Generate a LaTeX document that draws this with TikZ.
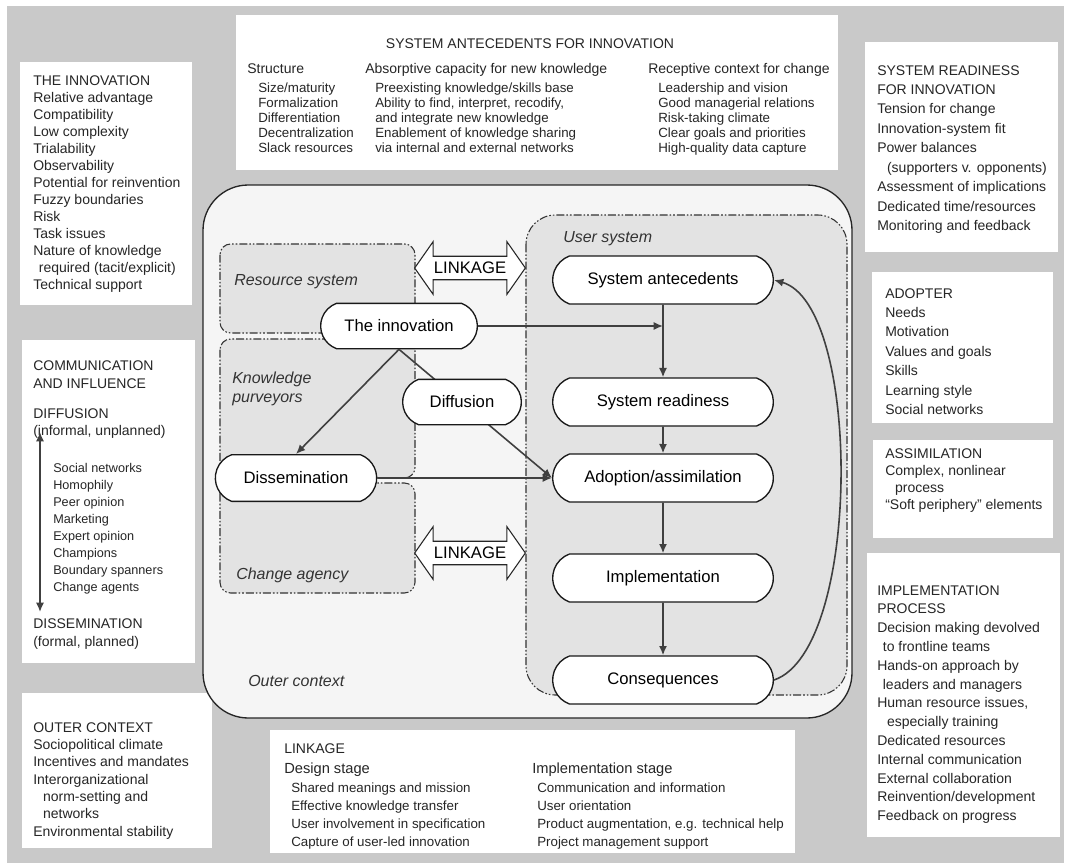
\documentclass[tikz,border=0pt]{standalone}
\usepackage{fontspec}
\setmainfont{Liberation Sans}
\usetikzlibrary{graphs,arrows.meta,shapes.misc,shapes.arrows}

\tikzset{
  panel/.style={fill=white},
  boxtext/.style={align=left, inner sep=0pt, anchor=north west, text=black!85},
  stage/.style={rounded rectangle, rounded rectangle arc length=140, draw=black!90,
    line width=1pt, fill=white, minimum width=169.5pt, minimum height=36pt,
    inner sep=2pt, font=\fontsize{12.5}{14}\selectfont},
  sysbox/.style={draw=black!80, line width=0.8pt, fill=black!11,
    dash pattern=on 6pt off 1.5pt on 1.2pt off 1.5pt on 1.2pt off 1.5pt},
  region/.style={font=\itshape\fontsize{12}{14}\selectfont, text=black!80, inner sep=0pt},
  linkarrow/.style={double arrow, draw=black!85, line width=0.8pt, fill=white,
    double arrow head extend=11pt, double arrow tip angle=110, minimum height=83pt,
    inner sep=4pt, font=\fontsize{12.5}{14}\selectfont},
  flow/.style={draw=black!75, line width=1.2pt},
  >={Latex[length=7pt,width=6pt]},
  every edge/.append style={flow},
}

\begin{document}
\begin{tikzpicture}[x=0.75pt, y=-0.75pt]
  \useasboundingbox (0,0) rectangle (1069,863);
  \fill[white] (0,0) rectangle (1069,863);
  \fill[black!21] (7,6) rectangle (1064,863);

  % white panels round the model
  \fill[panel] (236,15) rectangle (838,170);
  \fill[panel] (20,62) rectangle (192,305);
  \fill[panel] (22,340) rectangle (195,663);
  \fill[panel] (22,693) rectangle (212,848);
  \fill[panel] (865,42) rectangle (1058,252);
  \fill[panel] (872,272) rectangle (1053,423);
  \fill[panel] (873,440) rectangle (1053,538);
  \fill[panel] (867,553) rectangle (1060,837);
  \fill[panel] (270,730) rectangle (795,853);

  % system antecedents
  \node[boxtext, anchor=north, font=\fontsize{10.5}{12}\selectfont] (antetitle) at (530,38) {SYSTEM ANTECEDENTS FOR INNOVATION};
  \node[boxtext, font=\fontsize{10.5}{12}\selectfont] (structure) at (247,63) {Structure};
  \node[boxtext, font=\fontsize{10.5}{12}\selectfont] (absorptive) at (365,63) {Absorptive capacity for new knowledge};
  \node[boxtext, font=\fontsize{10.5}{12}\selectfont] (receptive) at (648,63) {Receptive context for change};
  \node[boxtext, font=\fontsize{10}{11.25}\selectfont] (structitems) at (258,83)
    {Size/maturity\\Formalization\\Differentiation\\Decentralization\\Slack resources};
  \node[boxtext, font=\fontsize{10}{11.25}\selectfont] (absorbitems) at (375,83)
    {Preexisting knowledge/skills base\\Ability to find, interpret, recodify,\\and integrate new knowledge\\Enablement of knowledge sharing\\via internal and external networks};
  \node[boxtext, font=\fontsize{10}{11.25}\selectfont] (receptitems) at (658,83)
    {Leadership and vision\\Good managerial relations\\Risk-taking climate\\Clear goals and priorities\\High-quality data capture};

  % the innovation
  \node[boxtext, font=\fontsize{10.5}{12.75}\selectfont] (innovtext) at (33,75)
    {THE INNOVATION\\Relative advantage\\Compatibility\\Low complexity\\Trialability\\Observability\\Potential for reinvention\\Fuzzy boundaries\\Risk\\Task issues\\Nature of knowledge\\\hspace*{0.4em}required (tacit/explicit)\\Technical support};

  % communication and influence
  \node[boxtext, font=\fontsize{10.5}{13.5}\selectfont] (commhead) at (33,360) {COMMUNICATION\\AND INFLUENCE};
  \node[boxtext, font=\fontsize{10.5}{12.75}\selectfont] (diffhead) at (33,408) {DIFFUSION\\(informal, unplanned)};
  \node[boxtext, font=\fontsize{9.5}{12.75}\selectfont] (commitems) at (53,463)
    {Social networks\\Homophily\\Peer opinion\\Marketing\\Expert opinion\\Champions\\Boundary spanners\\Change agents};
  \node[boxtext, font=\fontsize{10.5}{14}\selectfont] (disshead) at (33,618) {DISSEMINATION\\(formal, planned)};
  \coordinate (commtop) at (40,432);
  \coordinate (commbot) at (40,612);
  \draw[flow, <->] (commtop) -- (commbot);

  % outer context
  \node[boxtext, font=\fontsize{10.5}{13}\selectfont] (outertext) at (33,722)
    {OUTER CONTEXT\\Sociopolitical climate\\Incentives and mandates\\Interorganizational\\\hspace*{0.7em}norm-setting and\\\hspace*{0.7em}networks\\Environmental stability};

  % right column
  \node[boxtext, font=\fontsize{10.5}{14.6}\selectfont] (readytext) at (877,65)
    {SYSTEM READINESS\\FOR INNOVATION\\Tension for change\\Innovation-system fit\\Power balances\\\hspace*{0.7em}(supporters v. opponents)\\Assessment of implications\\Dedicated time/resources\\Monitoring and feedback};
  \node[boxtext, font=\fontsize{10.5}{14.6}\selectfont] (adopttext) at (885,288)
    {ADOPTER\\Needs\\Motivation\\Values and goals\\Skills\\Learning style\\Social networks};
  \node[boxtext, font=\fontsize{10.5}{12.75}\selectfont] (assimtext) at (885,448)
    {ASSIMILATION\\Complex, nonlinear\\\hspace*{0.7em}process\\``Soft periphery'' elements};
  \node[boxtext, font=\fontsize{10.5}{14.1}\selectfont] (impltext) at (877,585)
    {IMPLEMENTATION\\PROCESS\\Decision making devolved\\\hspace*{0.4em}to frontline teams\\Hands-on approach by\\\hspace*{0.4em}leaders and managers\\Human resource issues,\\\hspace*{0.7em}especially training\\Dedicated resources\\Internal communication\\External collaboration\\Reinvention/development\\Feedback on progress};

  % linkage
  \node[boxtext, font=\fontsize{10.5}{12}\selectfont] (linkhead) at (284,743) {LINKAGE};
  \node[boxtext, font=\fontsize{11}{12}\selectfont] (designhead) at (284,763) {Design stage};
  \node[boxtext, font=\fontsize{10}{13.3}\selectfont] (designitems) at (291,783)
    {Shared meanings and mission\\Effective knowledge transfer\\User involvement in specification\\Capture of user-led innovation};
  \node[boxtext, font=\fontsize{11}{12}\selectfont] (implhead) at (532,763) {Implementation stage};
  \node[boxtext, font=\fontsize{10}{13.3}\selectfont] (implitems) at (537,783)
    {Communication and information\\User orientation\\Product augmentation, e.g. technical help\\Project management support};

  % the model
  \draw[line width=1pt, draw=black!85, fill=black!4, rounded corners=34pt] (203,185) rectangle (852,718);
  \draw[sysbox, rounded corners=22pt] (526,215) rectangle (847,695);
  \draw[sysbox, rounded corners=8pt] (220,244) rectangle (415,333);
  \draw[sysbox, rounded corners=8pt] (220,339) rectangle (415,478);
  \draw[sysbox, rounded corners=8pt] (220,483) rectangle (415,593);

  \node[region, anchor=base west] (userlbl) at (563,242) {User system};
  \node[region, anchor=base west] (resourcelbl) at (234,285) {Resource system};
  \node[region, anchor=north west, align=left] (purveyorlbl) at (232,372) {Knowledge\\purveyors};
  \node[region, anchor=base west] (agencylbl) at (236,579) {Change agency};
  \node[region, anchor=base west] (outerlbl) at (248,686) {Outer context};

  \node[stage] (sa) at (663,280) {System antecedents};
  \node[stage] (sr) at (663,402) {System readiness};
  \node[stage] (aa) at (663,478) {Adoption/assimilation};
  \node[stage] (impl) at (663,578) {Implementation};
  \node[stage] (cons) at (663,680) {Consequences};
  \node[stage, minimum width=121.5pt, minimum height=34pt] (innov) at (399,326) {The innovation};
  \node[stage, minimum width=125pt, minimum height=35pt] (diss) at (296,478) {Dissemination};

  \graph{(sa) -> (sr) -> (aa) -> (impl) -> (cons)};
  \graph{(diss) -> (aa)};
  \draw[flow, ->] (innov.east) -- (innov.east -| sa.south);
  \draw[flow, ->] (innov.south) -- (diss.north);
  \draw[flow, ->] (innov.south) -- (aa.west);
  \draw[flow, ->] (cons.east) .. controls (862,650) and (862,305) .. (sa.east);

  \node[stage, minimum width=93pt, minimum height=34pt] (diff) at (462,402) {Diffusion};

  \node[linkarrow] (linktop) at (470,268) {LINKAGE};
  \node[linkarrow] (linkbot) at (470,553) {LINKAGE};
\end{tikzpicture}
\end{document}
